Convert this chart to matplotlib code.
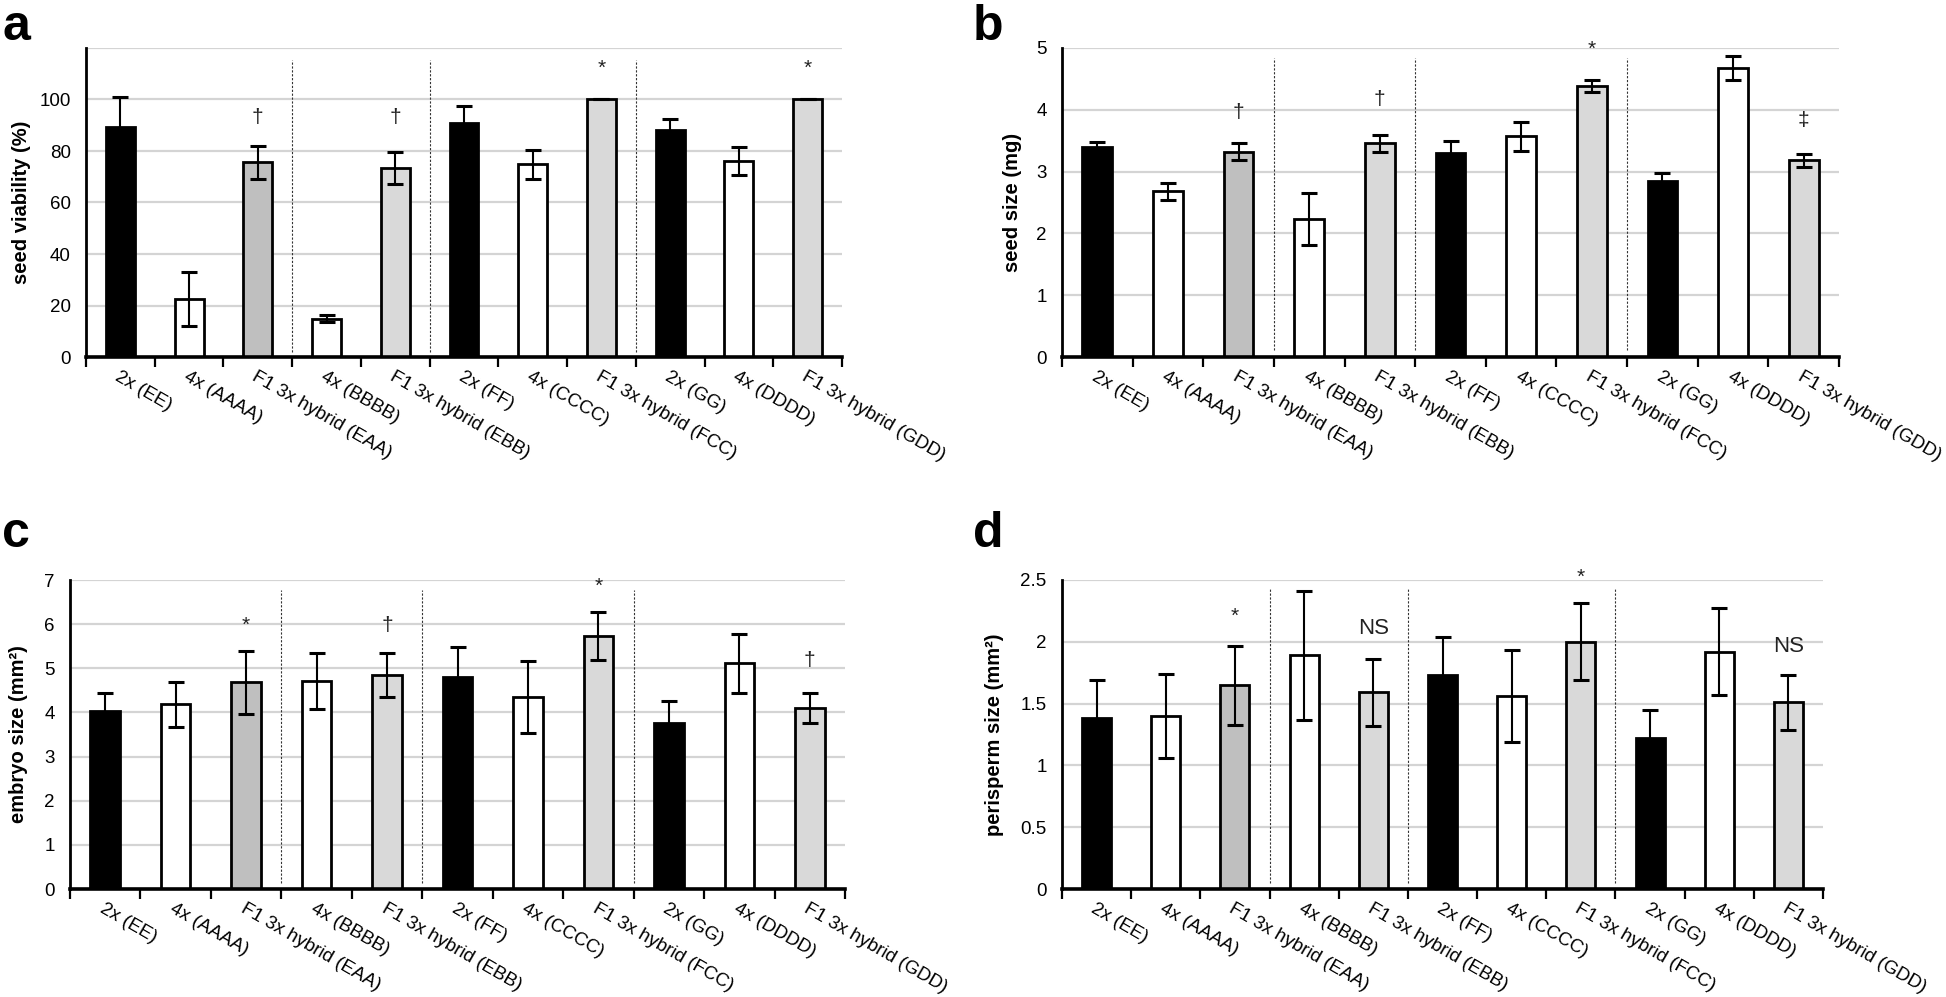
import matplotlib
matplotlib.use("Agg")
import matplotlib.pyplot as plt
import numpy as np

plt.rcParams['font.family'] = ['Liberation Sans', 'DejaVu Sans']

categories = ["2x (EE)", "4x (AAAA)", "F1 3x hybrid (EAA)", "4x (BBBB)",
              "F1 3x hybrid (EBB)", "2x (FF)", "4x (CCCC)", "F1 3x hybrid (FCC)",
              "2x (GG)", "4x (DDDD)", "F1 3x hybrid (GDD)"]
bar_colors = ["#000000", "#ffffff", "#bfbfbf", "#ffffff", "#d9d9d9", "#000000",
              "#ffffff", "#d9d9d9", "#000000", "#ffffff", "#d9d9d9"]
separators_after = [2, 4, 7]  # dotted lines after these category indices

# panel a: seed viability (%)
viability = [89.5, 22.6, 75.7, 14.9, 73.5, 90.7, 74.9, 100.0, 88.1, 76.1, 100.0]
viability_err = [11.5, 10.5, 6.4, 1.5, 6.2, 6.6, 5.6, 0.0, 4.3, 5.4, 0.0]
viability_marks = {2: ("†", 93), 4: ("†", 93), 7: ("*", 112), 10: ("*", 112)}
viability_ticks = [0, 20, 40, 60, 80, 100, 120]
viability_ticklabels = ["0", "20", "40", "60", "80", "100", ""]

# panel b: seed size (mg)
seed_size = [3.40, 2.68, 3.32, 2.23, 3.46, 3.30, 3.57, 4.38, 2.85, 4.68, 3.18]
seed_size_err = [0.08, 0.14, 0.14, 0.42, 0.14, 0.20, 0.23, 0.10, 0.12, 0.19, 0.10]
seed_size_marks = {2: ("†", 3.95), 4: ("†", 4.17), 7: ("*", 4.98), 10: ("‡", 3.82)}
seed_size_ticks = [0, 1, 2, 3, 4, 5]
seed_size_ticklabels = ["0", "1", "2", "3", "4", "5"]

# panel c: embryo size (mm2)
embryo = [4.04, 4.18, 4.68, 4.71, 4.85, 4.80, 4.35, 5.73, 3.75, 5.11, 4.10]
embryo_err = [0.41, 0.50, 0.72, 0.63, 0.49, 0.69, 0.82, 0.54, 0.50, 0.67, 0.35]
embryo_marks = {2: ("*", 5.97), 4: ("†", 5.98), 7: ("*", 6.85), 10: ("†", 5.18)}
embryo_ticks = [0, 1, 2, 3, 4, 5, 6, 7]
embryo_ticklabels = ["0", "1", "2", "3", "4", "5", "6", "7"]

# panel d: perisperm size (mm2)
perisperm = [1.38, 1.40, 1.65, 1.89, 1.59, 1.73, 1.56, 2.00, 1.22, 1.92, 1.51]
perisperm_err = [0.31, 0.34, 0.32, 0.52, 0.27, 0.31, 0.37, 0.31, 0.23, 0.35, 0.22]
perisperm_marks = {2: ("*", 2.21), 4: ("NS", 2.11), 7: ("*", 2.52), 10: ("NS", 1.96)}
perisperm_ticks = [0, 0.5, 1, 1.5, 2, 2.5]
perisperm_ticklabels = ["0", "0.5", "1", "1.5", "2", "2.5"]

fig = plt.figure(figsize=(19.46, 9.97), dpi=100)
W, H = 1946, 997


def make_axes(x0, x1, ytop, ybot):
    return fig.add_axes([x0 / W, 1 - ybot / H, (x1 - x0) / W, (ybot - ytop) / H])


def panel(ax, vals, errs, marks, ticks, ticklabels, ylabel, ylab_x, sep_range):
    x = np.arange(len(categories))
    ax.set_axisbelow(True)
    ax.bar(x, vals, width=0.42, color=bar_colors, edgecolor="black", linewidth=2.0, zorder=2)
    ax.errorbar(x, vals, yerr=errs, fmt="none", ecolor="black", elinewidth=1.5,
                capsize=6, capthick=2.2, zorder=3)
    ax.set_xlim(-0.5, len(categories) - 0.5)
    ax.set_ylim(ticks[0], ticks[-1])
    ax.set_yticks(ticks)
    ax.set_yticklabels(ticklabels, fontsize=13.5)
    ax.tick_params(axis='y', length=0, pad=11)
    ax.yaxis.grid(True, color="#d4d4d4", linewidth=1.6)
    ax.set_xticks(x)
    ax.set_xticklabels(categories, rotation=-30, ha='left', rotation_mode='anchor',
                       fontsize=13.5)
    ax.tick_params(axis='x', which='major', length=0, pad=8)
    ax.set_xticks(np.arange(len(categories) + 1) - 0.5, minor=True)
    ax.tick_params(axis='x', which='minor', length=7, width=1.6, direction='out')
    for s in ("top", "right"):
        ax.spines[s].set_visible(False)
    ax.spines["left"].set_linewidth(2.0)
    ax.spines["bottom"].set_linewidth(2.6)
    for i in separators_after:
        ax.plot([i + 0.5, i + 0.5], sep_range, linestyle=(0, (2, 1.5)), color="#333333",
                linewidth=0.8, zorder=1)
    for i, (txt, yv) in marks.items():
        fs = 16 if txt == "NS" else 15
        ax.text(i, yv, txt, ha='center', va='center', fontsize=fs, color="#222222")
    ax.set_ylabel(ylabel, fontsize=14.5, fontweight='bold')
    ax.yaxis.set_label_coords(ylab_x, 0.5)


ax_a = make_axes(86, 842, 48, 357)
panel(ax_a, viability, viability_err, viability_marks, viability_ticks,
      viability_ticklabels, "seed viability (%)", -0.073, [2, 115.4])
ax_b = make_axes(1062, 1839, 48, 357)
panel(ax_b, seed_size, seed_size_err, seed_size_marks, seed_size_ticks,
      seed_size_ticklabels, "seed size (mg)", -0.051, [0.11, 4.84])
ax_c = make_axes(70, 845, 580, 889)
panel(ax_c, embryo, embryo_err, embryo_marks, embryo_ticks,
      embryo_ticklabels, "embryo size (mm²)", -0.054, [0.14, 6.77])
ax_d = make_axes(1062, 1823, 580, 889)
panel(ax_d, perisperm, perisperm_err, perisperm_marks, perisperm_ticks,
      perisperm_ticklabels, "perisperm size (mm²)", -0.076, [0.05, 2.43])

for lab, px, py in [("a", 2, 40), ("b", 973, 40), ("c", 2, 547), ("d", 973, 547)]:
    fig.text(px / W, 1 - py / H, lab, fontsize=36, fontweight='bold',
             ha='left', va='baseline')

fig.savefig("out.png", dpi=100)
